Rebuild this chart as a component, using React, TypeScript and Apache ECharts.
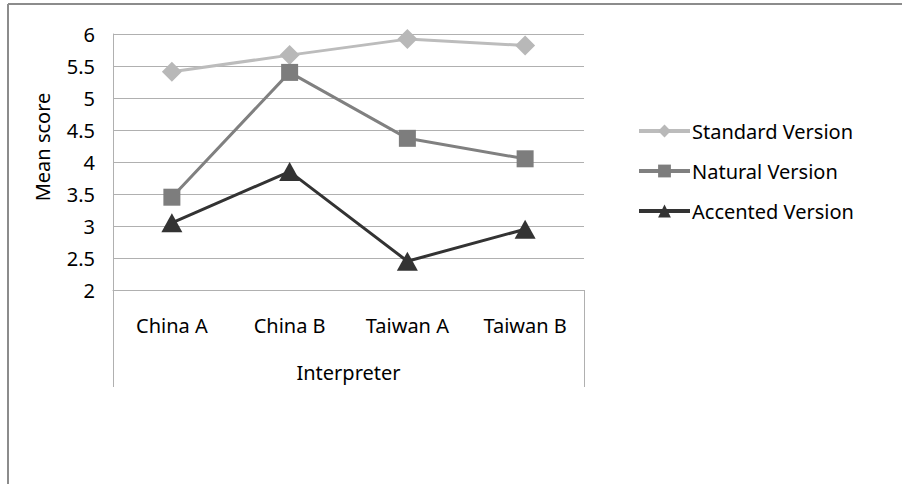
import React, { useEffect, useRef } from "react";
import * as echarts from "echarts";

const categories = ["China A", "China B", "Taiwan A", "Taiwan B"];
const standardVersion = [5.41, 5.67, 5.92, 5.82];
const naturalVersion = [3.45, 5.4, 4.37, 4.05];
const accentedVersion = [3.05, 3.85, 2.45, 2.95];
const seriesNames = ["Standard Version", "Natural Version", "Accented Version"];

const FONT = "'Noto Sans', sans-serif";
const GRID_COLOR = "#b0b0b0";
const FONT_SIZE = 20;

export default function App() {
  const ref = useRef<HTMLDivElement>(null);

  useEffect(() => {
    if (!ref.current) return;
    const chart = echarts.init(ref.current, undefined, { renderer: "svg" });
    chart.setOption({
      animation: false,
      backgroundColor: "#ffffff",
      textStyle: { fontFamily: FONT },
      grid: { left: 113, right: 318, top: 34, bottom: 194 },
      legend: {
        orient: "vertical",
        left: 632,
        top: 116,
        itemWidth: 51,
        itemHeight: 16,
        itemGap: 20,
        lineStyle: { width: 4 },
        textStyle: { fontFamily: FONT, fontSize: FONT_SIZE, color: "#000", lineHeight: 20, padding: [0, 0, 0, -3] },
        data: seriesNames,
      },
      xAxis: {
        type: "category",
        data: categories,
        boundaryGap: true,
        axisLine: { show: true, lineStyle: { color: GRID_COLOR, width: 1 } },
        axisTick: { show: false },
        axisLabel: { color: "#000", fontSize: FONT_SIZE, margin: 25, fontFamily: FONT },
        name: "Interpreter",
        nameLocation: "middle",
        nameGap: 72,
        nameTextStyle: { color: "#000", fontSize: FONT_SIZE, fontFamily: FONT },
      },
      yAxis: {
        type: "value",
        min: 2,
        max: 6,
        interval: 0.5,
        axisLine: { show: true, lineStyle: { color: GRID_COLOR, width: 1 } },
        axisTick: { show: false },
        axisLabel: { color: "#000", fontSize: FONT_SIZE, margin: 18, fontFamily: FONT },
        splitLine: { show: true, lineStyle: { color: GRID_COLOR, width: 1 } },
      },
      series: [
        {
          name: seriesNames[0],
          type: "line",
          data: standardVersion,
          symbol: "diamond",
          symbolSize: 20,
          color: "#b8b8b8",
          lineStyle: { color: "#bcbcbc", width: 3 },
          itemStyle: { color: "#b8b8b8" },
          z: 2,
        },
        {
          name: seriesNames[1],
          type: "line",
          data: naturalVersion,
          symbol: "rect",
          symbolSize: 17,
          color: "#7d7d7d",
          lineStyle: { color: "#808080", width: 3 },
          itemStyle: { color: "#7d7d7d" },
          z: 3,
        },
        {
          name: seriesNames[2],
          type: "line",
          data: accentedVersion,
          symbol: "triangle",
          symbolSize: [21, 19],
          color: "#333333",
          lineStyle: { color: "#333333", width: 3 },
          itemStyle: { color: "#333333" },
          z: 4,
        },
      ],
      graphic: [
        {
          type: "line",
          shape: { x1: 8, y1: 4, x2: 8, y2: 484 },
          style: { stroke: "#8c8c8c", lineWidth: 2 },
        },
        {
          type: "line",
          shape: { x1: 8, y1: 4, x2: 902, y2: 4 },
          style: { stroke: "#8c8c8c", lineWidth: 2 },
        },
        {
          type: "line",
          shape: { x1: 113.5, y1: 290, x2: 113.5, y2: 387 },
          style: { stroke: GRID_COLOR, lineWidth: 1 },
        },
        {
          type: "line",
          shape: { x1: 584.5, y1: 290, x2: 584.5, y2: 387 },
          style: { stroke: GRID_COLOR, lineWidth: 1 },
        },
        {
          type: "text",
          x: 42,
          y: 147,
          rotation: Math.PI / 2,
          style: {
            text: "Mean score",
            fontFamily: FONT,
            fontSize: FONT_SIZE,
            fill: "#000",
            align: "center",
            verticalAlign: "middle",
          },
        },
      ],
    });
    return () => chart.dispose();
  }, []);

  return (
    <div
      ref={ref}
      style={{ position: "fixed", left: 0, top: 0, width: 902, height: 484 }}
    />
  );
}
